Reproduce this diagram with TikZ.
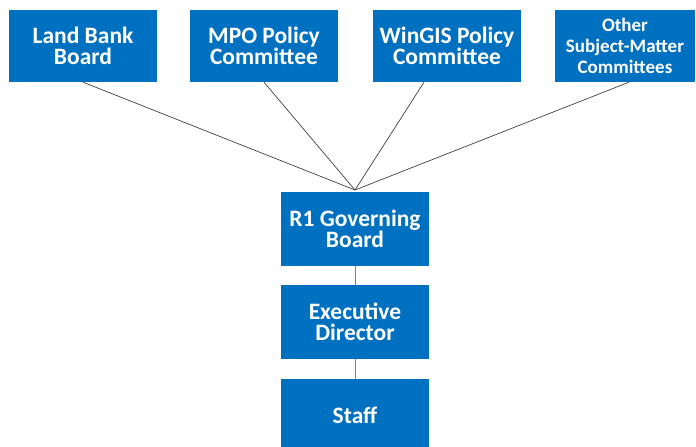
\documentclass[tikz,border=0pt]{standalone}
\usepackage{fontspec}
\setmainfont{Carlito}
\definecolor{boxblue}{HTML}{0070C0}
\definecolor{linegray}{HTML}{404040}
\definecolor{vgray}{HTML}{808080}
\begin{document}
\begin{tikzpicture}[x=1pt,y=-1pt,
  orgbox/.style={fill=boxblue,draw=none,text=white,font=\bfseries\fontsize{23.5}{21.5}\selectfont,align=center,inner sep=0pt,minimum height=72pt},
  smallbox/.style={orgbox,font=\bfseries\fontsize{19}{21}\selectfont},
  conn/.style={draw=linegray,line width=0.7pt},
  vconn/.style={draw=vgray,line width=1pt}]
\useasboundingbox (0,0) rectangle (696,447);
\coordinate (conv) at (355,190);
\node[orgbox,minimum width=148pt] (b1) at (83,46) {Land Bank\\Board};
\node[orgbox,minimum width=148pt] (b2) at (264,46) {MPO Policy\\Committee};
\node[orgbox,minimum width=148pt] (b3) at (447,46) {WinGIS Policy\\Committee};
\node[smallbox,minimum width=140pt] (b4) at (625,46) {Other\\Subject-Matter\\Committees};
\node[orgbox,minimum width=148pt,minimum height=74pt] (g) at (355,229) {R1 Governing\\Board};
\node[orgbox,minimum width=148pt,minimum height=74pt] (e) at (355,322) {Executive\\Director};
\node[orgbox,minimum width=148pt,minimum height=72pt] (s) at (355,415) {Staff};
\draw[conn] (b1.south) -- (conv);
\draw[conn] (b2.south) -- (conv);
\draw[conn] ([xshift=-23pt]b3.south) -- (conv);
\draw[conn] ([xshift=4pt]b4.south) -- (conv);
\draw[vconn] (g.south) -- (e.north);
\draw[vconn] (e.south) -- (s.north);
\end{tikzpicture}
\end{document}
